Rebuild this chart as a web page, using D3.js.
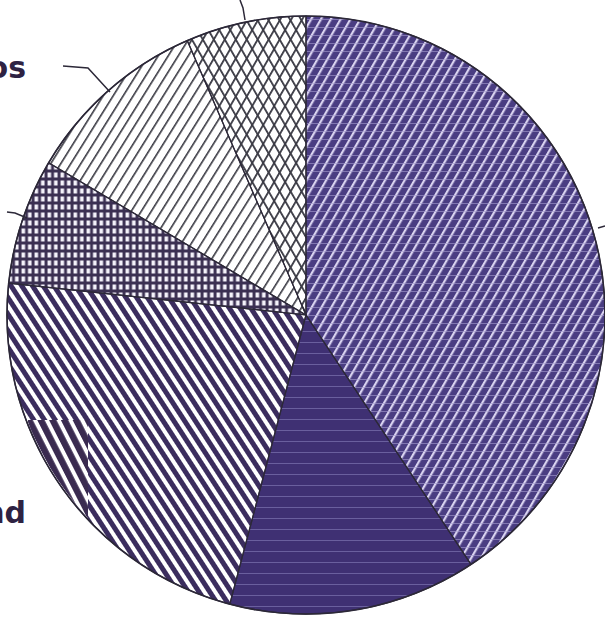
<!DOCTYPE html>
<html><head><meta charset="utf-8">
<script src="https://cdn.jsdelivr.net/npm/d3@7"></script>
<style>html,body{margin:0;padding:0;background:#fff;overflow:hidden}</style>
</head><body>
<svg id="c" width="605" height="619"></svg>
<script>
const categories = ["s1","s2","s3","s4","s5","s6"];
const values = [40.7, 13.4, 22.6, 6.8, 10.0, 6.5];
const labelTexts = ["os", "nd"];

const svg = d3.select("#c");
const defs = svg.append("defs");
const cx = 306, cy = 315, R = 299;

function pat(id, w, h, rot, draw) {
  const p = defs.append("pattern").attr("id", id).attr("patternUnits", "userSpaceOnUse")
    .attr("width", w).attr("height", h).attr("patternTransform", "rotate(" + rot + ")");
  draw(p);
}
// slice 1: purple with light diagonal streaks and faint horizontal bands
pat("p1", 8.5, 20, 30, p => {
  p.append("rect").attr("width", 8.5).attr("height", 20).attr("fill", "#4a3d82");
  p.append("rect").attr("x", 0).attr("width", 2.2).attr("height", 20).attr("fill", "#d9d3f0");
});
pat("p1h", 20, 8, 0, p => {
  p.append("rect").attr("y", 0).attr("width", 20).attr("height", 1).attr("fill", "#a69fd0").attr("opacity", 0.6);
});
// slice 2: dark purple with faint horizontal lines
pat("p2", 20, 11, 0, p => {
  p.append("rect").attr("width", 20).attr("height", 11).attr("fill", "#3f3073");
  p.append("rect").attr("y", 5).attr("width", 20).attr("height", 1).attr("fill", "#6a5f9e");
});
// slice 3: thick \ stripes
pat("p3", 9, 20, -33, p => {
  p.append("rect").attr("width", 9).attr("height", 20).attr("fill", "#ffffff");
  p.append("rect").attr("width", 5).attr("height", 20).attr("fill", "#3b2d5e");
});
// slice 4: brick grid
pat("p4", 6.5, 8, 0, p => {
  p.append("rect").attr("width", 6.5).attr("height", 8).attr("fill", "#3b3052");
  p.append("rect").attr("x", 1.5).attr("y", 1.5).attr("width", 3.6).attr("height", 5).attr("fill", "#f4f2fa");
});
// slice 5: thin / lines on white
pat("p5", 8.5, 20, 32, p => {
  p.append("rect").attr("width", 8.5).attr("height", 20).attr("fill", "#ffffff");
  p.append("rect").attr("width", 1.6).attr("height", 20).attr("fill", "#3a3a44");
});
// slice 6: diamond crosshatch
pat("p6a", 9.5, 20, 30, p => {
  p.append("rect").attr("width", 9.5).attr("height", 20).attr("fill", "#ffffff");
  p.append("rect").attr("width", 1.8).attr("height", 20).attr("fill", "#3a3a44");
});
pat("p6b", 9.5, 20, -30, p => {
  p.append("rect").attr("width", 1.8).attr("height", 20).attr("fill", "#3a3a44");
});
// patch stripes
pat("pp", 10.5, 20, -27, p => {
  p.append("rect").attr("width", 6.5).attr("height", 20).attr("fill", "#3a2b50");
});

const fills = [["p1","p1h"],["p2"],["p3"],["p4"],["p5"],["p6a","p6b"]];

const pie = d3.pie().sort(null).value(d => d)(values);
const arc = d3.arc().innerRadius(0).outerRadius(R);
const g = svg.append("g").attr("transform", `translate(${cx},${cy})`);

pie.forEach((d, i) => {
  fills[i].forEach(f => {
    g.append("path").attr("d", arc(d)).attr("fill", `url(#${f})`);
  });
});
g.selectAll("path.edge").data(pie).enter().append("path").attr("class", "edge")
  .attr("d", arc).attr("fill", "none").attr("stroke", "#2c2838").attr("stroke-width", 1.2);
g.append("circle").attr("r", R).attr("fill", "none").attr("stroke", "#2c2838").attr("stroke-width", 1.6);

// scanning artefact patch
defs.append("clipPath").attr("id", "cc").append("circle").attr("cx", cx).attr("cy", cy).attr("r", R - 1);
const patch = svg.append("g").attr("clip-path", "url(#cc)");
patch.append("rect").attr("x", 28).attr("y", 420).attr("width", 60).attr("height", 120).attr("fill", "#fff");
patch.append("rect").attr("x", 28).attr("y", 420).attr("width", 60).attr("height", 120).attr("fill", "url(#pp)");

// leader lines
const ink = "#2c2838";
const leaders = [
  [[63,66],[88,68],[110,92]],
  [[240,0],[243,8],[245,20]],
  [[7,212],[15,213],[27,218]],
  [[598,228],[605,226]]
];
const line = d3.line();
leaders.forEach(l => svg.append("path").attr("d", line(l)).attr("fill", "none").attr("stroke", ink).attr("stroke-width", 1.5));

// labels
svg.append("text").attr("x", 26).attr("y", 78).attr("text-anchor", "end")
  .attr("font-family", "DejaVu Sans").attr("font-weight", "bold").attr("font-size", 30)
  .attr("fill", "#2e2242").text(labelTexts[0]);
svg.append("text").attr("x", 26).attr("y", 523).attr("text-anchor", "end")
  .attr("font-family", "DejaVu Sans").attr("font-weight", "bold").attr("font-size", 30)
  .attr("fill", "#2e2242").text(labelTexts[1]);
</script>
</body></html>
